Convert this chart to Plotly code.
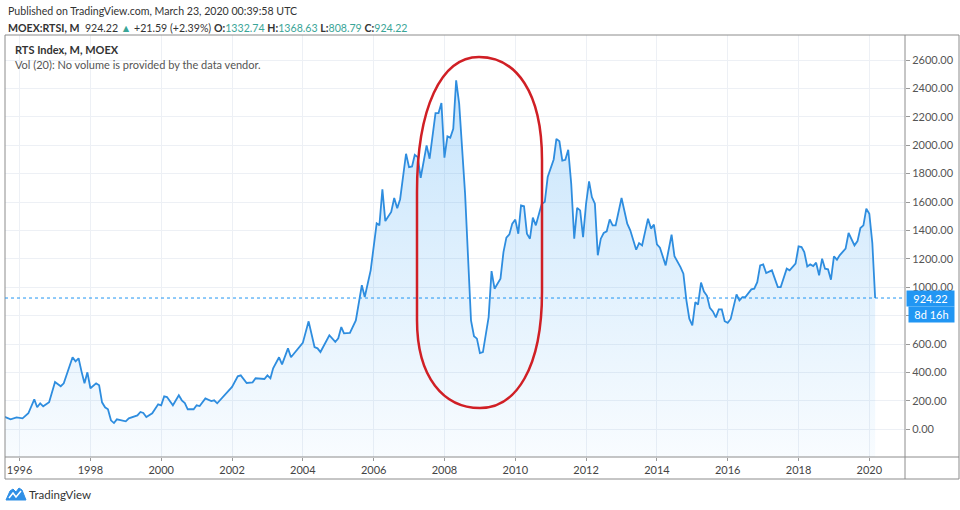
import plotly.graph_objects as go

# monthly closes of the RTS index
DATES = [
    '1995-08', '1995-10', '1995-12', '1996-02', '1996-04', '1996-06', '1996-07', '1996-08',
    '1996-09', '1996-11', '1997-01', '1997-03', '1997-04', '1997-05', '1997-07', '1997-08',
    '1997-09', '1997-10', '1997-11', '1997-12', '1998-01', '1998-03', '1998-04', '1998-05',
    '1998-06', '1998-07', '1998-08', '1998-09', '1998-10', '1999-01', '1999-02', '1999-05',
    '1999-06', '1999-07', '1999-08', '1999-10', '1999-12', '2000-01', '2000-02', '2000-03',
    '2000-05', '2000-07', '2000-08', '2000-09', '2000-10', '2000-12', '2001-01', '2001-02',
    '2001-04', '2001-06', '2001-07', '2001-08', '2002-01', '2002-03', '2002-04', '2002-06',
    '2002-08', '2002-09', '2002-12', '2003-01', '2003-02', '2003-03', '2003-05', '2003-06',
    '2003-08', '2003-09', '2004-01', '2004-03', '2004-05', '2004-06', '2004-07', '2004-10',
    '2004-12', '2005-01', '2005-02', '2005-03', '2005-05', '2005-07', '2005-09', '2005-10',
    '2005-12', '2006-02', '2006-03', '2006-04', '2006-05', '2006-07', '2006-08', '2006-09',
    '2006-10', '2006-12', '2007-01', '2007-02', '2007-03', '2007-04', '2007-05', '2007-07',
    '2007-08', '2007-10', '2007-11', '2007-12', '2008-01', '2008-02', '2008-03', '2008-04',
    '2008-05', '2008-06', '2008-08', '2008-10', '2008-11', '2008-12', '2009-01', '2009-02',
    '2009-04', '2009-05', '2009-06', '2009-08', '2009-09', '2009-10', '2009-11', '2009-12',
    '2010-01', '2010-02', '2010-03', '2010-04', '2010-05', '2010-06', '2010-07', '2010-08',
    '2010-10', '2010-11', '2010-12', '2011-02', '2011-03', '2011-04', '2011-05', '2011-06',
    '2011-07', '2011-08', '2011-09', '2011-10', '2011-11', '2011-12', '2012-01', '2012-02',
    '2012-03', '2012-04', '2012-05', '2012-06', '2012-07', '2012-08', '2012-09', '2012-10',
    '2012-11', '2013-01', '2013-03', '2013-04', '2013-06', '2013-07', '2013-08', '2013-10',
    '2013-11', '2013-12', '2014-01', '2014-02', '2014-04', '2014-06', '2014-07', '2014-09',
    '2014-10', '2014-11', '2014-12', '2015-01', '2015-02', '2015-03', '2015-04', '2015-05',
    '2015-06', '2015-07', '2015-08', '2015-09', '2015-10', '2015-11', '2015-12', '2016-01',
    '2016-02', '2016-04', '2016-05', '2016-06', '2016-07', '2016-09', '2016-10', '2016-11',
    '2016-12', '2017-01', '2017-02', '2017-04', '2017-05', '2017-06', '2017-07', '2017-09',
    '2017-10', '2017-11', '2017-12', '2018-01', '2018-02', '2018-03', '2018-04', '2018-05',
    '2018-06', '2018-07', '2018-08', '2018-09', '2018-10', '2018-11', '2018-12', '2019-01',
    '2019-02', '2019-03', '2019-05', '2019-06', '2019-08', '2019-09', '2019-10', '2019-11',
    '2019-12', '2020-01', '2020-02', '2020-03',
]
VALUES = [
    87, 70, 84, 77, 113, 211, 155, 183,
    162, 190, 333, 303, 324, 380, 507, 479,
    500, 408, 324, 401, 289, 324, 310, 190,
    155, 141, 63, 44, 70, 56, 77, 98,
    122, 115, 87, 113, 176, 169, 232, 227,
    169, 239, 204, 185, 141, 141, 169, 164,
    218, 199, 204, 183, 298, 373, 380, 326,
    331, 359, 354, 380, 359, 429, 507, 457,
    570, 507, 608, 760, 579, 570, 544, 662,
    615, 641, 720, 676, 678, 767, 1014, 931,
    1119, 1450, 1436, 1690, 1466, 1530, 1628, 1556,
    1620, 1940, 1846, 1851, 1933, 1916, 1771, 1999,
    1905, 2226, 2226, 2297, 1912, 2062, 2053, 2116,
    2457, 2293, 1659, 767, 655, 638, 537, 544,
    790, 1114, 990, 1061, 1248, 1349, 1372, 1448,
    1476, 1377, 1576, 1571, 1377, 1342, 1490, 1436,
    1588, 1600, 1776, 1900, 2045, 2028, 1892, 1897,
    1968, 1728, 1342, 1559, 1541, 1353, 1588, 1746,
    1635, 1588, 1225, 1342, 1382, 1394, 1478, 1436,
    1436, 1628, 1448, 1401, 1264, 1311, 1295, 1483,
    1413, 1441, 1302, 1279, 1154, 1370, 1218, 1142,
    1096, 908, 779, 732, 896, 878, 1033, 970,
    940, 855, 830, 788, 844, 844, 761, 750,
    777, 950, 908, 931, 931, 985, 990, 1036,
    1154, 1161, 1100, 1119, 1067, 1001, 1001, 1131,
    1119, 1142, 1166, 1288, 1283, 1248, 1147, 1161,
    1149, 1173, 1084, 1201, 1131, 1126, 1053, 1217,
    1194, 1225, 1272, 1382, 1295, 1325, 1417, 1436,
    1553, 1518, 1311, 924.22,
]
Y_TICKS = list(range(0, 2601, 200))
# 800.00 sits under the countdown tag on the original, so it has no label
Y_TICK_LABELS = ['' if v == 800 else f'{v:.2f}' for v in Y_TICKS]

HEADER_1 = 'Published on TradingView.com, March 23, 2020 00:39:58 UTC'
SYMBOL = 'MOEX:RTSI, M'
CHANGE = '+21.59 (+2.39%)'
OHLC = [('O', 1332.74), ('H', 1368.63), ('L', 808.79), ('C', 924.22)]
LEGEND_1 = 'RTS Index, M, MOEX'
LEGEND_2 = 'Vol (20): No volume is provided by the data vendor.'
TIME_LEFT = '8d 16h'

LAST = VALUES[-1]
Y_MIN, Y_MAX = -195, 2776
X_RANGE = ['1995-08-04', '2021-01-03']

FONT = 'Lato'
BLUE = '#2196f3'
TEAL = '#3aa597'
FRAME = '#8c8c8c'

# plot area in page pixels
L, R, T, B = 5, 905, 35, 457


def px(x):
    return (x - L) / (R - L)


def py(y):
    return (B - y) / (B - T)


def ellipse_path():
    pts = [
        ('M', [(479, 57)]),
        ('C', [(516, 57), (542, 92), (542, 160)]),
        ('L', [(542, 292)]),
        ('C', [(542, 368), (516, 408), (480, 408)]),
        ('C', [(444, 408), (417, 378), (417, 320)]),
        ('L', [(417, 192)]),
        ('C', [(417, 108), (441, 57), (479, 57)]),
    ]
    out = []
    for cmd, coords in pts:
        out.append(cmd + ' ' + ' '.join(f'{px(x):.5f},{py(y):.5f}' for x, y in coords))
    return ' '.join(out) + ' Z'


def logo_path():
    pts = [(6, 500), (10, 491), (13, 489), (16, 492), (19, 488), (22, 490), (26, 500)]
    return 'M ' + ' L '.join(f'{px(x):.5f},{py(y):.5f}' for x, y in pts) + ' Z'


def logo_zigzag():
    pts = [(9, 498), (13, 493), (16, 497), (21, 491)]
    return 'M ' + ' L '.join(f'{px(x):.5f},{py(y):.5f}' for x, y in pts)


def header_line_2():
    parts = [f'<b>{SYMBOL}</b>  {LAST:.2f} <span style="color:{TEAL}">▲</span> {CHANGE}']
    for key, val in OHLC:
        parts.append(f'<b>{key}:</b><span style="color:{TEAL}">{val:.2f}</span>')
    return ' '.join(parts)


def build() -> go.Figure:
    fig = go.Figure()
    fig.add_trace(go.Scatter(x=DATES, y=[Y_MIN] * len(DATES), mode='lines',
                             line=dict(width=0), hoverinfo='skip', showlegend=False))
    fig.add_trace(go.Scatter(
        x=DATES, y=VALUES, mode='lines',
        line=dict(color='#2e8ddf', width=1.8),
        fill='tonexty',
        fillgradient=dict(type='vertical', start=Y_MIN, stop=Y_MAX,
                          colorscale=[[0, 'rgba(33,150,243,0.03)'],
                                      [1, 'rgba(33,150,243,0.28)']]),
        showlegend=False))

    fig.update_layout(
        width=960, height=510,
        margin=dict(l=L, r=960 - R, t=T, b=510 - B),
        paper_bgcolor='white', plot_bgcolor='white',
        font=dict(family=FONT, size=11, color='#444'),
        showlegend=False,
    )
    fig.update_xaxes(type='date', range=X_RANGE, tick0='1996-01-01', dtick='M24',
                     tickformat='%Y', ticks='outside', ticklen=3, tickcolor='#999',
                     showgrid=True, gridcolor='#edf0f5', gridwidth=1,
                     showline=False, zeroline=False,
                     tickfont=dict(size=11, color='#444'))
    fig.update_yaxes(range=[Y_MIN, Y_MAX], side='right', tickvals=Y_TICKS,
                     ticktext=Y_TICK_LABELS, ticks='outside', ticklen=4,
                     tickcolor='#999', showgrid=True, gridcolor='#edf0f5',
                     showline=False, zeroline=False,
                     tickfont=dict(size=11, color='#555'))

    shapes = [
        dict(type='rect', xref='paper', yref='paper', x0=0, x1=px(959),
             y0=py(479), y1=1, line=dict(color=FRAME, width=1)),
        dict(type='line', xref='paper', yref='paper', x0=0, x1=px(959),
             y0=0, y1=0, line=dict(color=FRAME, width=1)),
        dict(type='line', xref='paper', yref='paper', x0=1, x1=1,
             y0=py(479), y1=1, line=dict(color=FRAME, width=1)),
        dict(type='line', xref='paper', yref='y', x0=0, x1=1, y0=LAST, y1=LAST,
             line=dict(color=BLUE, width=1, dash='dot')),
        dict(type='path', xref='paper', yref='paper', path=ellipse_path(),
             line=dict(color='#d01f25', width=2.5)),
        dict(type='path', xref='paper', yref='paper', path=logo_path(),
             fillcolor='#2f8fe6', line=dict(color='#2f8fe6', width=1)),
        dict(type='path', xref='paper', yref='paper', path=logo_zigzag(),
             line=dict(color='white', width=1.5)),
    ]
    fig.update_layout(shapes=shapes)

    ann = [
        dict(x=px(6), y=py(11), text=HEADER_1, font=dict(size=10.6, color='#333')),
        dict(x=px(6), y=py(28), text=header_line_2(), font=dict(size=10.6, color='#333')),
        dict(x=px(13), y=py(50), text=f'<b>{LEGEND_1}</b>', font=dict(size=11, color='#333')),
        dict(x=px(13), y=py(64), text=LEGEND_2, font=dict(size=11, color='#555')),
        dict(x=px(27), y=py(494), text='TradingView', font=dict(size=11.5, color='#333')),
    ]
    for a in ann:
        a.update(xref='paper', yref='paper', xanchor='left', yanchor='middle',
                 showarrow=False)
    ann.append(dict(xref='paper', yref='y', x=1, y=LAST, xanchor='left',
                    yanchor='middle', xshift=1, showarrow=False, text=f'{LAST:.2f}',
                    bgcolor=BLUE, width=45, height=13, borderpad=1, align='center',
                    font=dict(size=11, color='white')))
    ann.append(dict(xref='paper', yref='y', x=1, y=LAST, xanchor='left',
                    yanchor='middle', xshift=3, yshift=-16, showarrow=False,
                    text=TIME_LEFT, bgcolor=BLUE, width=43, height=13, borderpad=1,
                    align='center', font=dict(size=11, color='white')))
    fig.update_layout(annotations=ann)
    return fig


if __name__ == '__main__':
    fig = build()
    # drop the default page margin so the figure sits at the window's corner
    fig.write_html('out.html', config={'displayModeBar': False},
                   post_script="document.body.style.margin='0';")
